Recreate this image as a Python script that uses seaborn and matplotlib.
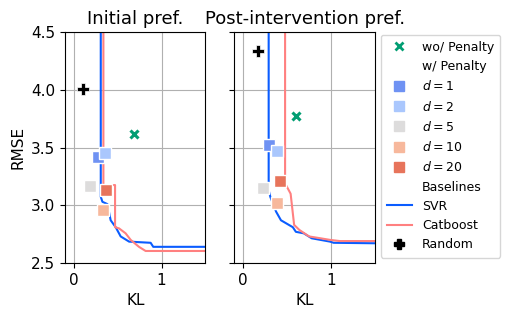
import matplotlib
matplotlib.use("Agg")
import matplotlib.pyplot as plt
from matplotlib.lines import Line2D
import seaborn as sns

# Pareto fronts of the baselines, (KL, RMSE)
svr_init_kl = [0.307, 0.307, 0.326, 0.383, 0.42, 0.477, 0.534, 0.63, 0.875, 0.905, 1.6]
svr_init_rmse = [4.8, 3.074, 3.03, 3.01, 2.87, 2.81, 2.73, 2.685, 2.675, 2.64, 2.64]
cat_init_kl = [0.337, 0.337, 0.47, 0.47, 0.515, 0.59, 0.648, 0.742, 0.818, 1.6]
cat_init_rmse = [4.8, 3.175, 3.175, 2.81, 2.80, 2.757, 2.70, 2.64, 2.604, 2.604]

svr_post_kl = [0.29, 0.29, 0.31, 0.375, 0.43, 0.565, 0.6, 0.69, 0.78, 0.99, 1.03, 1.6]
svr_post_rmse = [4.8, 3.13, 3.07, 2.944, 2.87, 2.81, 2.77, 2.757, 2.714, 2.685, 2.675, 2.67]
cat_post_kl = [0.477, 0.477, 0.54, 0.58, 0.64, 0.75, 0.88, 0.99, 1.1, 1.6]
cat_post_rmse = [4.8, 3.19, 3.10, 2.83, 2.786, 2.73, 2.714, 2.70, 2.69, 2.69]

# random baseline and model without penalty
random_init = (0.11, 4.01)
random_post = (0.174, 4.34)
nopen_init = (0.69, 3.62)
nopen_post = (0.60, 3.77)

# model with penalty for several d
d_values = [1, 2, 5, 10, 20]
pen_init_kl = [0.27, 0.36, 0.18, 0.33, 0.37]
pen_init_rmse = [3.42, 3.45, 3.17, 2.96, 3.13]
pen_post_kl = [0.29, 0.38, 0.23, 0.38, 0.42]
pen_post_rmse = [3.52, 3.47, 3.147, 3.02, 3.21]

svr_color = "#0a5cff"
cat_color = "#ff8080"
green = sns.color_palette("colorblind")[2]
d_colors = sns.color_palette("coolwarm", 5)

fig, axes = plt.subplots(1, 2, figsize=(5.08, 3.18), dpi=100, sharey=True)
plt.subplots_adjust(left=0.128, right=0.738, top=0.899, bottom=0.173, wspace=0.206)

panels = [
    ("Initial pref.", svr_init_kl, svr_init_rmse, cat_init_kl, cat_init_rmse,
     random_init, nopen_init, pen_init_kl, pen_init_rmse),
    ("Post-intervention pref.", svr_post_kl, svr_post_rmse, cat_post_kl, cat_post_rmse,
     random_post, nopen_post, pen_post_kl, pen_post_rmse),
]

for ax, (title, skl, srm, ckl, crm, rnd, nop, pkl, prm) in zip(axes, panels):
    ax.grid(True, color="#b0b0b0", linewidth=0.8)
    ax.set_axisbelow(True)
    sns.lineplot(x=skl, y=srm, sort=False, estimator=None, ax=ax, color=svr_color, lw=1.5)
    sns.lineplot(x=ckl, y=crm, sort=False, estimator=None, ax=ax, color=cat_color, lw=1.5)
    for i in range(len(d_values)):
        ax.plot(pkl[i], prm[i], marker="s", ms=9, color=d_colors[i],
                mec="white", mew=1, ls="none", zorder=4)
    ax.plot(*nop, marker="x", ms=6, color=green, mew=2.2, ls="none", zorder=5)
    ax.plot(*rnd, marker="P", ms=8, color="black", mec="white", mew=0.5, ls="none", zorder=5)
    ax.set_title(title, fontsize=13)
    ax.set_xlim(-0.1, 1.5)
    ax.set_ylim(2.5, 4.5)
    ax.set_xticks([0, 1])
    ax.set_xticklabels(["0", "1"])
    ax.set_xlabel("KL", fontsize=11)
    ax.tick_params(labelsize=11)

axes[0].set_yticks([2.5, 3.0, 3.5, 4.0, 4.5])
axes[0].set_ylabel("RMSE", fontsize=11)

blank = dict(ls="none", marker="none")
handles = [Line2D([], [], marker="x", ms=6, mew=2, color=green, ls="none"),
           Line2D([], [], **blank)]
labels = ["wo/ Penalty", "w/ Penalty"]
for c, d in zip(d_colors, d_values):
    handles.append(Line2D([], [], marker="s", ms=7, color=c, ls="none"))
    labels.append(r"$d = %d$" % d)
handles += [Line2D([], [], **blank),
            Line2D([], [], color=svr_color, lw=1.5),
            Line2D([], [], color=cat_color, lw=1.5),
            Line2D([], [], marker="P", ms=7, color="black", ls="none")]
labels += ["Baselines", "SVR", "Catboost", "Random"]
fig.legend(handles, labels, loc="upper left", bbox_to_anchor=(0.737, 0.911),
           fontsize=9, handlelength=2.0, borderpad=0.5, labelspacing=0.5)

plt.savefig("out.png", dpi=100)
